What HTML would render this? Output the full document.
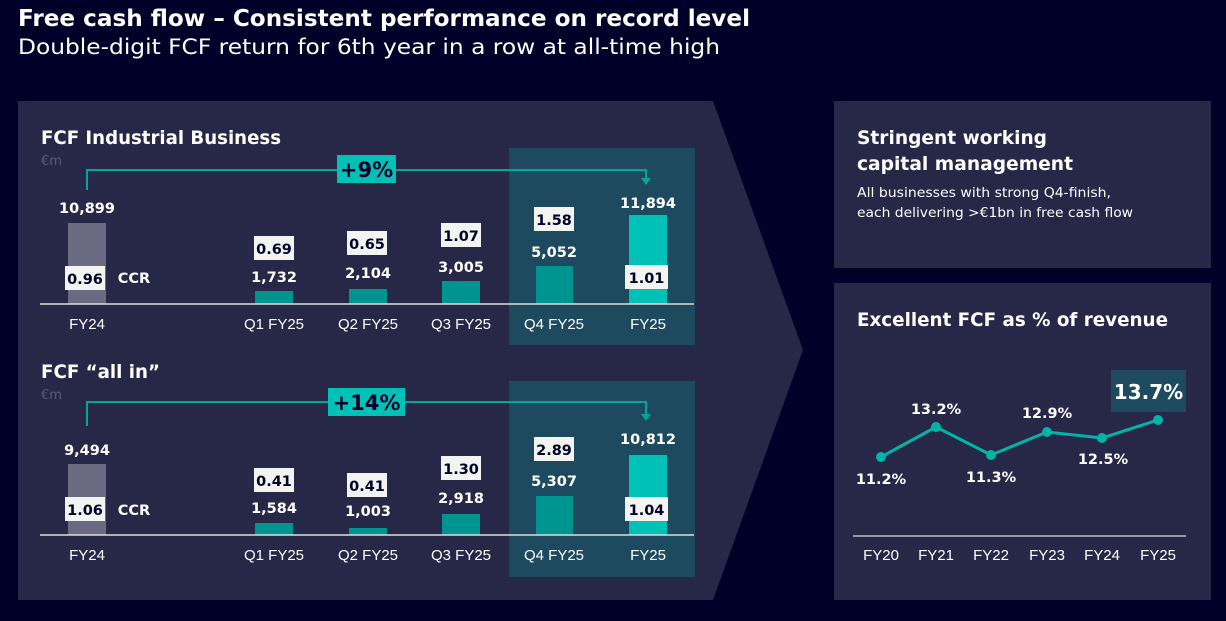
<!DOCTYPE html>
<html><head><meta charset="utf-8"><style>
body{margin:0;background:#000028;width:1226px;height:621px;overflow:hidden;font-family:"Liberation Sans",sans-serif;}
svg{position:absolute;left:0;top:0}
.d{font-family:"DejaVu Sans",sans-serif}
</style></head><body>
<svg width="1226" height="621" xmlns="http://www.w3.org/2000/svg" font-family="Liberation Sans, sans-serif">
<rect width="1226" height="621" fill="#000028"/>
<text class="d" x="18" y="26" fill="#fff" font-size="23" font-weight="bold" textLength="732" lengthAdjust="spacingAndGlyphs">Free cash flow – Consistent performance on record level</text>
<text class="d" x="18" y="54" fill="#fff" font-size="21" textLength="702" lengthAdjust="spacingAndGlyphs">Double-digit FCF return for 6th year in a row at all-time high</text>
<polygon points="18,101 713,101 803,350 713,600 18,600" fill="#272747"/>
<rect x="834" y="101" width="377" height="167" fill="#272747"/>
<rect x="834" y="283" width="377" height="317" fill="#272747"/>
<rect x="509" y="148" width="186" height="197" fill="#1d4a5f"/>
<rect x="509" y="381" width="186" height="196" fill="#1d4a5f"/>
<g class="d" fill="#fff" font-weight="bold" font-size="19">
<text x="41" y="144" textLength="240" lengthAdjust="spacingAndGlyphs">FCF Industrial Business</text>
<text x="41" y="378" textLength="119" lengthAdjust="spacingAndGlyphs">FCF “all in”</text>
<text x="857" y="144" textLength="190" lengthAdjust="spacingAndGlyphs">Stringent working</text>
<text x="857" y="170" textLength="216" lengthAdjust="spacingAndGlyphs">capital management</text>
<text x="857" y="326" textLength="311" lengthAdjust="spacingAndGlyphs">Excellent FCF as % of revenue</text>
</g>
<text class="d" x="857" y="197" fill="#fff" font-size="13.5" textLength="254" lengthAdjust="spacingAndGlyphs">All businesses with strong Q4-finish,</text>
<text class="d" x="857" y="217" fill="#fff" font-size="13.5" textLength="276" lengthAdjust="spacingAndGlyphs">each delivering &gt;€1bn in free cash flow</text>
<text class="d" x="41" y="165" fill="#5a5a75" font-size="13">€m</text>
<text class="d" x="41" y="399" fill="#5a5a75" font-size="13">€m</text>
<g fill="none" stroke="#00a89c" stroke-width="2">
<polyline points="87,190 87,170 646,170 646,178"/>
<polyline points="87,426 87,402 646,402 646,414"/>
</g>
<polygon points="641,178 651,178 646,185" fill="#00a89c"/>
<polygon points="641,414 651,414 646,421" fill="#00a89c"/>
<rect x="337" y="155" width="59" height="28" fill="#00c1b6"/>
<text class="d" x="366.5" y="177" text-anchor="middle" font-size="21" font-weight="bold" fill="#000028">+9%</text>
<rect x="328" y="388" width="77" height="28" fill="#00c1b6"/>
<text class="d" x="366.5" y="410" text-anchor="middle" font-size="21" font-weight="bold" fill="#000028">+14%</text>
<rect x="68" y="223" width="38" height="81" fill="#6a6a82"/>
<rect x="255" y="291" width="38" height="13" fill="#009490"/>
<rect x="349" y="289" width="38" height="15" fill="#009490"/>
<rect x="442" y="281" width="38" height="23" fill="#009490"/>
<rect x="536" y="266" width="37" height="38" fill="#009490"/>
<rect x="629" y="215" width="38" height="89" fill="#00c1b6"/>
<line x1="40" y1="304" x2="694" y2="304" stroke="#ddd" stroke-width="1.5"/>
<rect x="68" y="464" width="38" height="71" fill="#6a6a82"/>
<rect x="255" y="523" width="38" height="12" fill="#009490"/>
<rect x="349" y="528" width="38" height="7" fill="#009490"/>
<rect x="442" y="514" width="38" height="21" fill="#009490"/>
<rect x="536" y="496" width="37" height="39" fill="#009490"/>
<rect x="629" y="455" width="38" height="80" fill="#00c1b6"/>
<line x1="40" y1="535" x2="694" y2="535" stroke="#ddd" stroke-width="1.5"/>
<g fill="#fff" font-size="15" text-anchor="middle">
<text x="87" y="329">FY24</text><text x="274" y="329">Q1 FY25</text><text x="368" y="329">Q2 FY25</text><text x="461" y="329">Q3 FY25</text><text x="554" y="329">Q4 FY25</text><text x="648" y="329">FY25</text>
<text x="87" y="560">FY24</text><text x="274" y="560">Q1 FY25</text><text x="368" y="560">Q2 FY25</text><text x="461" y="560">Q3 FY25</text><text x="554" y="560">Q4 FY25</text><text x="648" y="560">FY25</text>
</g>
<g class="d" fill="#fff" font-size="14.5" font-weight="bold" text-anchor="middle">
<text x="87" y="213">10,899</text><text x="274" y="282">1,732</text><text x="368" y="278">2,104</text><text x="461" y="272">3,005</text><text x="554" y="257">5,052</text><text x="648" y="208">11,894</text>
<text x="87" y="455">9,494</text><text x="274" y="513">1,584</text><text x="368" y="516">1,003</text><text x="461" y="503">2,918</text><text x="554" y="486">5,307</text><text x="648" y="444">10,812</text>
<text x="134" y="283">CCR</text><text x="134" y="515">CCR</text>
</g>
<g fill="#f3f3f0">
<rect x="65" y="266" width="40" height="24"/><rect x="254" y="236" width="40" height="24"/><rect x="347" y="231" width="40" height="24"/><rect x="441" y="223" width="40" height="24"/><rect x="534" y="207" width="40" height="24"/><rect x="625" y="265" width="43" height="24"/>
<rect x="65" y="497" width="40" height="24"/><rect x="254" y="468" width="40" height="24"/><rect x="347" y="473" width="40" height="24"/><rect x="441" y="456" width="40" height="24"/><rect x="534" y="437" width="40" height="24"/><rect x="625" y="497" width="43" height="24"/>
</g>
<g class="d" fill="#000028" font-size="14.5" font-weight="bold" text-anchor="middle">
<text x="85" y="284">0.96</text><text x="274" y="254">0.69</text><text x="367" y="249">0.65</text><text x="461" y="241">1.07</text><text x="554" y="225">1.58</text><text x="646.5" y="283">1.01</text>
<text x="85" y="515">1.06</text><text x="274" y="486">0.41</text><text x="367" y="491">0.41</text><text x="461" y="474">1.30</text><text x="554" y="455">2.89</text><text x="646.5" y="515">1.04</text>
</g>
<line x1="853" y1="536" x2="1186" y2="536" stroke="#bbb" stroke-width="1.5"/>
<polyline points="881,457 936,427 991,455 1047,432 1102,438 1158,420" fill="none" stroke="#00b5a8" stroke-width="3"/>
<g fill="#00b5a8"><circle cx="881" cy="457" r="5"/><circle cx="936" cy="427" r="5"/><circle cx="991" cy="455" r="5"/><circle cx="1047" cy="432" r="5"/><circle cx="1102" cy="438" r="5"/><circle cx="1158" cy="420" r="5"/></g>
<rect x="1111" y="370" width="75" height="42" fill="#1d4a5f"/>
<text class="d" x="1148.5" y="399" fill="#fff" font-size="20" font-weight="bold" text-anchor="middle">13.7%</text>
<g class="d" fill="#fff" font-size="14.5" font-weight="bold" text-anchor="middle">
<text x="881" y="484">11.2%</text><text x="936" y="414">13.2%</text><text x="991" y="482">11.3%</text><text x="1047" y="418">12.9%</text><text x="1103" y="464">12.5%</text>
</g>
<g fill="#fff" font-size="15" text-anchor="middle">
<text x="881" y="560">FY20</text><text x="936" y="560">FY21</text><text x="991" y="560">FY22</text><text x="1047" y="560">FY23</text><text x="1102" y="560">FY24</text><text x="1158" y="560">FY25</text>
</g>
</svg>
</body></html>
